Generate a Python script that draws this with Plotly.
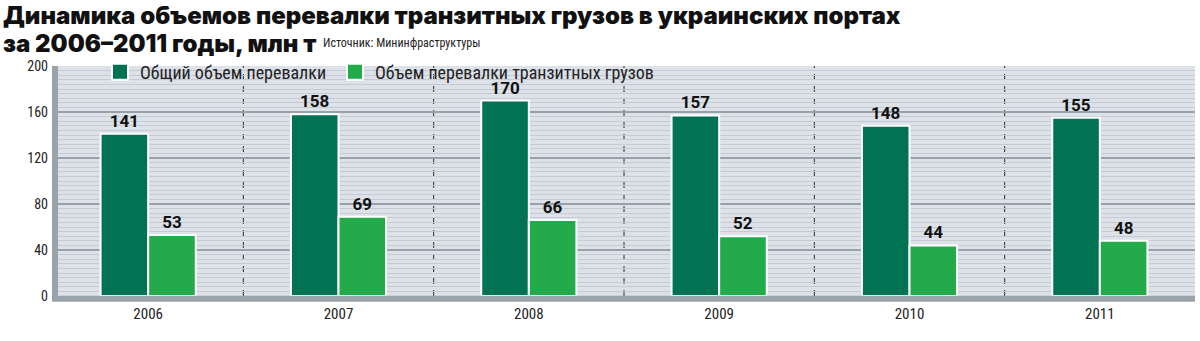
import plotly.graph_objects as go

years = ["2006", "2007", "2008", "2009", "2010", "2011"]
total = [141, 158, 170, 157, 148, 155]
transit = [53, 69, 66, 52, 44, 48]
series_names = ["Общий объем перевалки", "Объем перевалки транзитных грузов"]
y_ticks = [0, 40, 80, 120, 160, 200]

DARK = "#017352"
LIGHT = "#22aa4b"
NARROW = "Liberation Sans Narrow, Arial Narrow, Roboto Condensed, sans-serif"
HEAVY = "Inter, Roboto, Liberation Sans, Arial, sans-serif"

xs = list(range(len(years)))
PW, PH, L, T = 1142, 230, 53, 66

fig = go.Figure()
legend_ids = ["legend", "legend2"]
for vals, col, name, lg in [(total, DARK, series_names[0], legend_ids[0]),
                             (transit, LIGHT, series_names[1], legend_ids[1])]:
    fig.add_trace(go.Bar(
        x=xs, y=vals, name=name, marker=dict(color=col, line=dict(color="white", width=2)),
        text=[str(v) for v in vals], textposition="outside", cliponaxis=False,
        textfont=dict(family="Roboto, Liberation Sans, sans-serif", size=17, color="#111", weight="bold"),
        showlegend=False,
    ))
    fig.add_trace(go.Scatter(
        x=[None], y=[None], mode="markers", name=name, legend=lg,
        marker=dict(symbol="square", size=16, color=col, line=dict(color="white", width=2)),
    ))

shapes = []
for i in range(len(years) - 1):
    shapes.append(dict(type="line", xref="x", yref="y", x0=i + 0.5, x1=i + 0.5, y0=0, y1=200,
                       line=dict(color="#2a2a2a", width=1, dash="6px,6px"), layer="below"))
# left axis band (inside plot) and thick bottom band
shapes.append(dict(type="rect", xref="paper", yref="paper", x0=-1/PW, x1=5/PW, y0=0, y1=1,
                   fillcolor="#9aa2aa", line=dict(width=0), layer="above"))
shapes.append(dict(type="line", xref="paper", yref="paper", x0=-1/PW, x1=1, y0=-0.012, y1=-0.012,
                   line=dict(color="#9aa2aa", width=6), layer="above"))

legend_common = dict(orientation="h", xanchor="left", yanchor="middle", y=1 - 6/PH,
                     bgcolor="rgba(0,0,0,0)", font=dict(family=NARROW, size=18, color="#222"))

fig.update_layout(
    width=1200, height=341,
    margin=dict(l=L, r=5, t=T, b=45),
    paper_bgcolor="white", plot_bgcolor="#dde1e8",
    barmode="group", bargap=0.5, bargroupgap=0,
    shapes=shapes,
    legend=dict(x=(100 - L)/PW, **legend_common),
    legend2=dict(x=(335 - L)/PW, **legend_common),
    xaxis=dict(tickmode="array", tickvals=xs, ticktext=years, range=[-0.5, len(years) - 0.5],
               showgrid=False, zeroline=False, showline=False, ticks="", ticklabelstandoff=7,
               tickfont=dict(family=NARROW, size=15, color="#222")),
    yaxis=dict(range=[0, 200], tickmode="array", tickvals=y_ticks, ticktext=[str(v) for v in y_ticks],
               showgrid=True, gridcolor="#98a1a9", gridwidth=2, zeroline=False,
               showline=False, ticks="", ticklabelstandoff=4,
               tickfont=dict(family=NARROW, size=14, color="#222"),
               minor=dict(dtick=4, tick0=0, showgrid=True, gridcolor="#c6cbd3", gridwidth=1)),
    annotations=[
        dict(text="Динамика объемов перевалки транзитных грузов в украинских портах",
             xref="paper", yref="paper", x=-(L - 1)/PW, y=1 + (T + 1)/PH, xanchor="left", yanchor="top",
             showarrow=False, font=dict(family=HEAVY, size=24, color="#111", weight=900)),
        dict(text="за 2006–2011 годы, млн т",
             xref="paper", yref="paper", x=-(L - 1)/PW, y=1 + (T - 27)/PH, xanchor="left", yanchor="top",
             showarrow=False, font=dict(family=HEAVY, size=24, color="#111", weight=900)),
        dict(text="Источник: Мининфраструктуры",
             xref="paper", yref="paper", x=(321 - L)/PW, y=1 + (T - 52)/PH, xanchor="left", yanchor="bottom",
             showarrow=False, font=dict(family=NARROW, size=12, color="#222")),
    ],
)

fig.write_html("out.html")
